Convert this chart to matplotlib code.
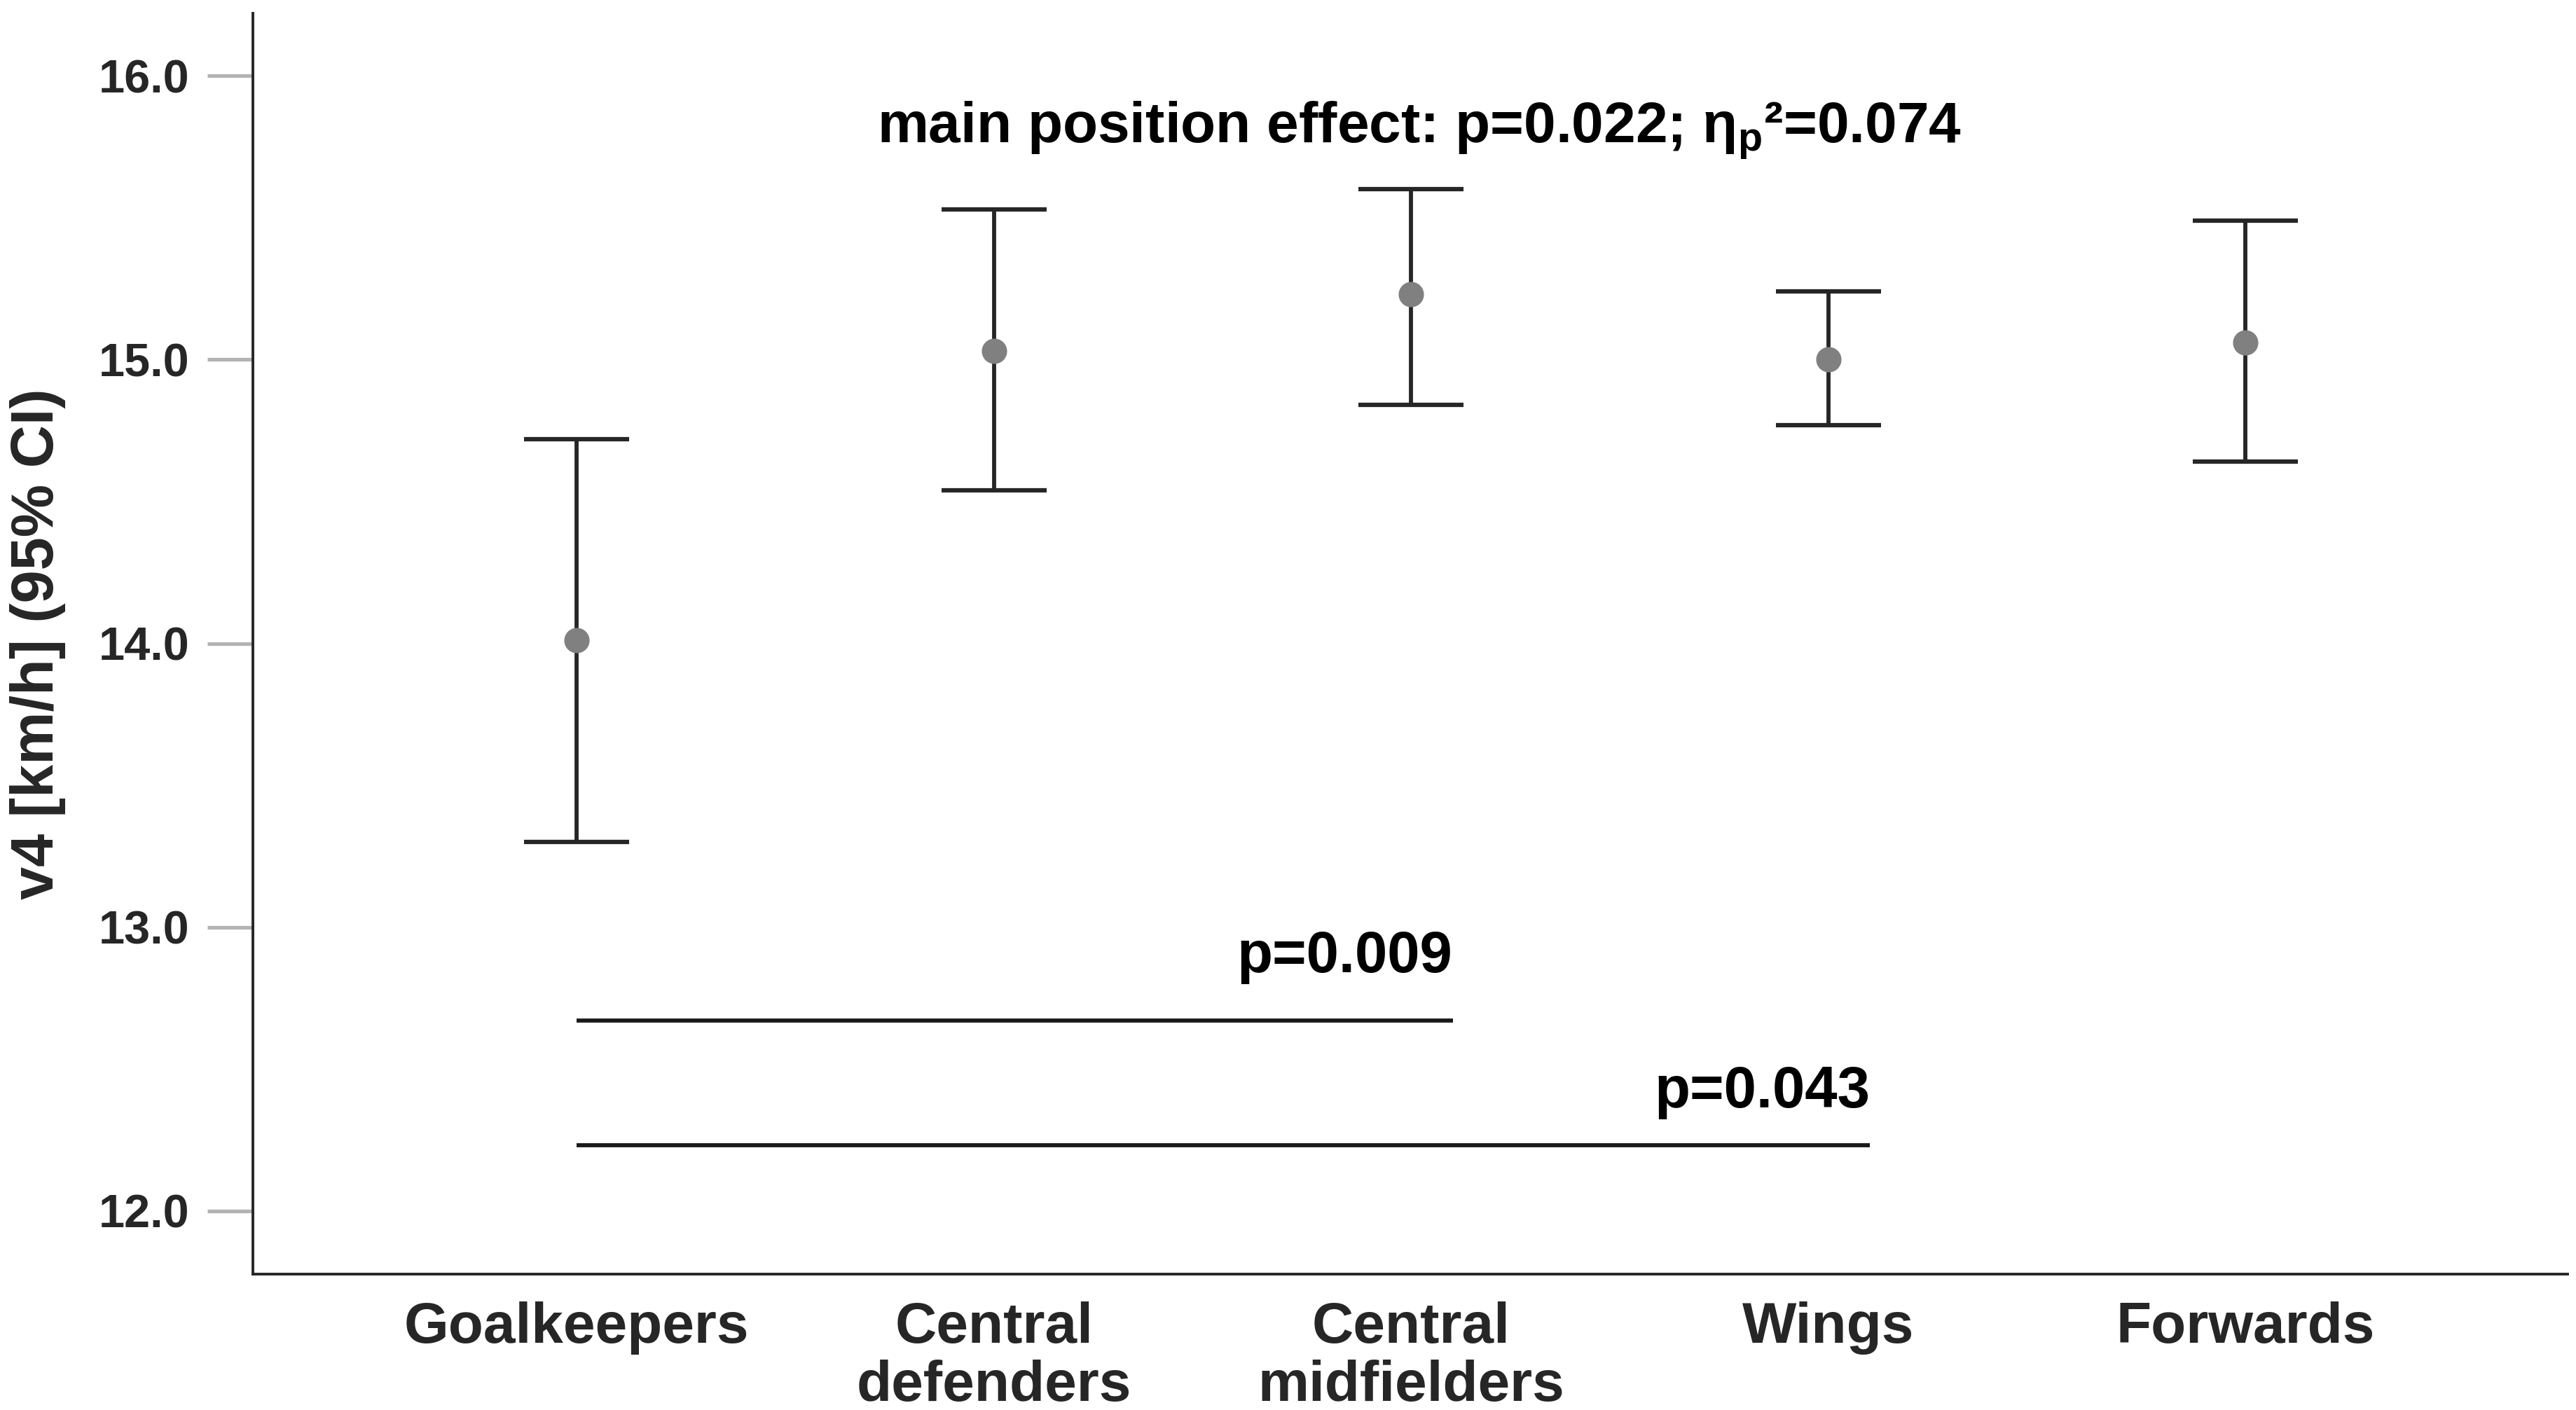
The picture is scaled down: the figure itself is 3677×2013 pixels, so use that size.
import matplotlib
matplotlib.use("Agg")
import matplotlib.pyplot as plt

plt.rcParams['font.family'] = ['Liberation Sans', 'DejaVu Sans']
plt.rcParams['font.weight'] = 'bold'
plt.rcParams['mathtext.fontset'] = 'custom'
plt.rcParams['mathtext.rm'] = 'Liberation Sans:bold'
plt.rcParams['mathtext.it'] = 'Liberation Sans:bold'
plt.rcParams['mathtext.bf'] = 'Liberation Sans:bold'

# 数据：各位置的 v4 均值及 95% CI
positions = ["Goalkeepers", "Central\ndefenders", "Central\nmidfielders", "Wings", "Forwards"]
means = [14.01, 15.03, 15.23, 15.00, 15.06]
ci_low = [13.30, 14.54, 14.84, 14.77, 14.64]
ci_high = [14.72, 15.53, 15.60, 15.24, 15.49]

# 两两比较：起点组、终点组、线的高度、p 值文字高度
comp_from = [0, 0]
comp_to = [2, 3]
comp_y = [12.67, 12.23]
comp_label_y = [12.84, 12.365]
comp_text = ["p=0.009", "p=0.043"]

title_text = "main position effect: p=0.022; η$_\\mathrm{p}$²=0.074"
y_ticks = [12.0, 13.0, 14.0, 15.0, 16.0]

dark = "#262626"

fig = plt.figure(figsize=(36.77, 20.13), dpi=100)
ax = fig.add_axes([0.0982, 0.0964, 0.8986, 0.8942])

x = list(range(1, len(positions) + 1))
yerr = [[m - lo for m, lo in zip(means, ci_low)],
        [hi - m for m, hi in zip(means, ci_high)]]
ax.errorbar(x, means, yerr=yerr, fmt='o', color='#808080', markersize=25,
            ecolor=dark, elinewidth=4.2, capsize=54, capthick=4.5, zorder=3)

# 显著性横线 + p 值
for i0, i1, yy, ty, txt in zip(comp_from, comp_to, comp_y, comp_label_y, comp_text):
    x0 = x[i0]
    x1 = x[i1] + 0.1
    ax.plot([x0, x1], [yy, yy], color='#1a1a1a', lw=4.2, solid_capstyle='butt')
    ax.text(x1, ty, txt, ha='right', va='baseline', fontsize=60,
            fontweight='bold', color='black')

ax.text(3.02, 15.764, title_text, ha='center', va='baseline', fontsize=59,
        fontweight='bold', color='black')

ax.set_xlim(0.224, 5.773)
ax.set_ylim(11.777, 16.221)
ax.set_xticks(x)
ax.set_xticklabels(positions, fontsize=59, fontweight='bold', color=dark,
                   linespacing=1.12)
ax.set_yticks(y_ticks)
ax.set_yticklabels(["%.1f" % t for t in y_ticks], fontsize=48,
                   fontweight='bold', color=dark)
ax.tick_params(axis='x', length=0, pad=28)
ax.tick_params(axis='y', length=47, width=3.8, color='#b3b3b3', pad=18)

ax.set_ylabel("v4 [km/h] (95% CI)", fontsize=61, fontweight='bold', color=dark,
              va='center', ha='center')
ax.yaxis.set_label_coords(-0.093, 0.5)

for side in ['top', 'right']:
    ax.spines[side].set_visible(False)
for side in ['left', 'bottom']:
    ax.spines[side].set_linewidth(2.8)
    ax.spines[side].set_color(dark)

fig.savefig("out.png", dpi=100, facecolor='white')
